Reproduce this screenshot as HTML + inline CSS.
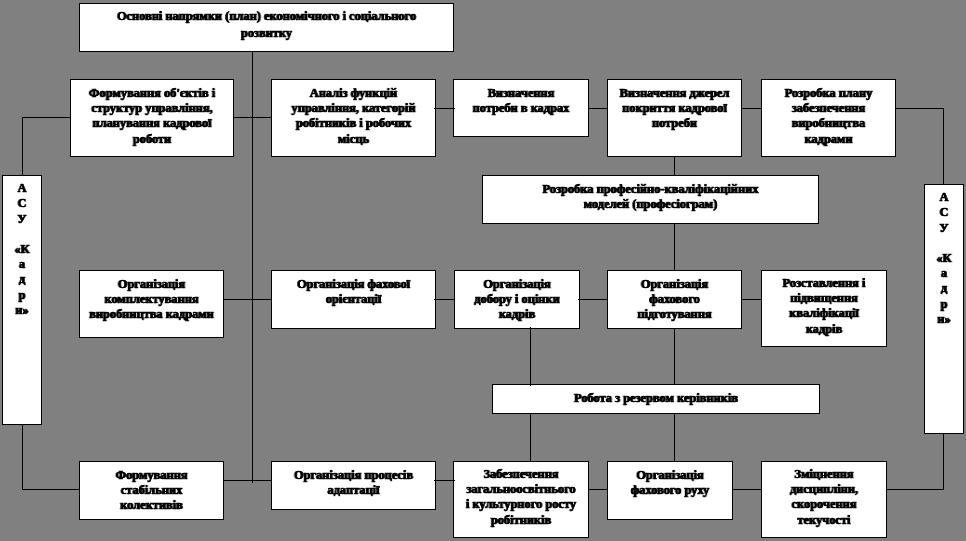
<!DOCTYPE html>
<html><head><meta charset="utf-8"><title>diagram</title>
<style>
html,body{margin:0;padding:0;}
body{width:966px;height:541px;background:#808080;position:relative;overflow:hidden;
font-family:"Liberation Serif",serif;font-weight:bold;font-size:13.33px;color:#000;}
.b{position:absolute;box-sizing:border-box;background:#fff;border:1px solid #000;text-align:center;line-height:15.4px;white-space:nowrap;}
.b span{display:block;transform:scaleX(0.93);transform-origin:50% 50%;-webkit-text-stroke:0.6px #000;text-shadow:0.45px 0 0 #000,-0.45px 0 0 #000;will-change:transform;}
.l{position:absolute;background:#000;z-index:2;}
</style></head><body>
<div class="l" style="left:252px;top:51px;width:1px;height:432px"></div>
<div class="l" style="left:22px;top:117px;width:48px;height:1px"></div>
<div class="l" style="left:22px;top:117px;width:1px;height:58px"></div>
<div class="l" style="left:233px;top:117px;width:38px;height:1px"></div>
<div class="l" style="left:434px;top:108px;width:21px;height:1px"></div>
<div class="l" style="left:588px;top:108px;width:19px;height:1px"></div>
<div class="l" style="left:741px;top:108px;width:20px;height:1px"></div>
<div class="l" style="left:895px;top:108px;width:49px;height:1px"></div>
<div class="l" style="left:943px;top:108px;width:1px;height:76px"></div>
<div class="l" style="left:674px;top:156px;width:1px;height:19px"></div>
<div class="l" style="left:674px;top:223px;width:1px;height:47px"></div>
<div class="l" style="left:223px;top:299px;width:48px;height:1px"></div>
<div class="l" style="left:434px;top:299px;width:21px;height:1px"></div>
<div class="l" style="left:578px;top:299px;width:29px;height:1px"></div>
<div class="l" style="left:741px;top:299px;width:20px;height:1px"></div>
<div class="l" style="left:530px;top:327px;width:1px;height:59px"></div>
<div class="l" style="left:674px;top:328px;width:1px;height:56px"></div>
<div class="l" style="left:530px;top:413px;width:1px;height:48px"></div>
<div class="l" style="left:674px;top:413px;width:1px;height:48px"></div>
<div class="l" style="left:22px;top:424px;width:1px;height:66px"></div>
<div class="l" style="left:22px;top:489px;width:57px;height:1px"></div>
<div class="l" style="left:223px;top:480px;width:48px;height:1px"></div>
<div class="l" style="left:434px;top:480px;width:21px;height:1px"></div>
<div class="l" style="left:588px;top:489px;width:19px;height:1px"></div>
<div class="l" style="left:732px;top:489px;width:29px;height:1px"></div>
<div class="l" style="left:886px;top:489px;width:58px;height:1px"></div>
<div class="l" style="left:943px;top:433px;width:1px;height:57px"></div>
<div class="b" style="left:79px;top:3px;width:375px;height:49px;padding-top:4.4px;line-height:16.2px"><span>Основні напрямки (план) економічного і соціального</span><span>розвитку</span></div>
<div class="b" style="left:70px;top:79px;width:164px;height:78px;padding-top:4.6px"><span>Формування об'єктів і</span><span>структур управління,</span><span>планування кадрової</span><span>роботи</span></div>
<div class="b" style="left:271px;top:79px;width:165px;height:78px;padding-top:4.6px"><span>Аналіз функцій</span><span>управління, категорій</span><span>робітників і робочих</span><span>місць</span></div>
<div class="b" style="left:453px;top:79px;width:136px;height:58px;padding-top:4.6px"><span>Визначення</span><span>потреби в кадрах</span></div>
<div class="b" style="left:607px;top:79px;width:135px;height:78px;padding-top:4.6px"><span>Визначення джерел</span><span>покриття кадрової</span><span>потреби</span></div>
<div class="b" style="left:761px;top:79px;width:135px;height:78px;padding-top:4.6px"><span>Розробка плану</span><span>забезпечення</span><span>виробництва</span><span>кадрами</span></div>
<div class="b" style="left:482px;top:175px;width:337px;height:49px;padding-top:4.6px"><span>Розробка професійно-кваліфікаційних</span><span>моделей (професіограм)</span></div>
<div class="b" style="left:79px;top:270px;width:145px;height:68px;padding-top:4.6px"><span>Організація</span><span>комплектування</span><span>виробництва кадрами</span></div>
<div class="b" style="left:271px;top:270px;width:165px;height:59px;padding-top:4.6px"><span>Організація фахової</span><span>орієнтації</span></div>
<div class="b" style="left:454px;top:270px;width:126px;height:59px;padding-top:4.6px"><span>Організація</span><span>добору і оцінки</span><span>кадрів</span></div>
<div class="b" style="left:607px;top:270px;width:135px;height:59px;padding-top:4.6px"><span>Організація</span><span>фахового</span><span>підготування</span></div>
<div class="b" style="left:761px;top:270px;width:126px;height:77px;padding-top:3.6px"><span>Розставлення і</span><span>підвищення</span><span>кваліфікації</span><span>кадрів</span></div>
<div class="b" style="left:492px;top:384px;width:328px;height:30px;padding-top:4.6px"><span>Робота з резервом керівників</span></div>
<div class="b" style="left:79px;top:461px;width:145px;height:59px;padding-top:4.6px"><span>Формування</span><span>стабільних</span><span>колективів</span></div>
<div class="b" style="left:271px;top:461px;width:165px;height:49px;padding-top:4.6px"><span>Організація процесів</span><span>адаптації</span></div>
<div class="b" style="left:453px;top:461px;width:136px;height:77px;padding-top:3.6px"><span>Забезпечення</span><span>загальноосвітнього</span><span>і культурного росту</span><span>робітників</span></div>
<div class="b" style="left:607px;top:461px;width:126px;height:59px;padding-top:4.6px"><span>Організація</span><span>фахового руху</span></div>
<div class="b" style="left:761px;top:461px;width:126px;height:77px;padding-top:3.6px"><span>Зміцнення</span><span>дисципліни,</span><span>скорочення</span><span>текучості</span></div>
<div class="b" style="left:2px;top:175px;width:40px;height:250px;padding-top:4.2px;line-height:15.2px"><span>А</span><span>С</span><span>У</span><span>&nbsp;</span><span>«К</span><span>а</span><span>д</span><span>р</span><span>и»</span></div>
<div class="b" style="left:924px;top:184px;width:40px;height:250px;padding-top:4.2px;line-height:15.2px"><span>А</span><span>С</span><span>У</span><span>&nbsp;</span><span>«К</span><span>а</span><span>д</span><span>р</span><span>и»</span></div>
</body></html>
